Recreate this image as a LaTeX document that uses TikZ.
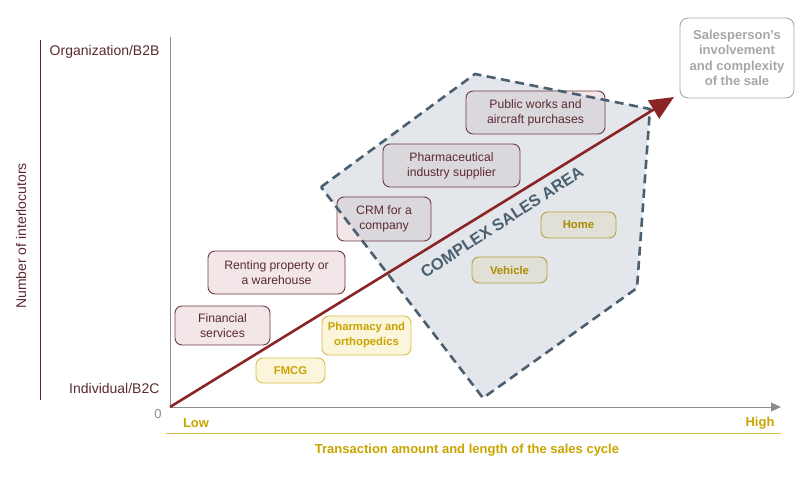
\documentclass[tikz,border=0pt]{standalone}
\usepackage{fontspec}
\setmainfont{Liberation Sans}
\usetikzlibrary{arrows.meta}
\definecolor{maroon}{HTML}{5A2A30}
\definecolor{boxborder}{HTML}{6E3A42}
\definecolor{pinkfill}{HTML}{F2E6E8}
\definecolor{gold}{HTML}{C9A400}
\definecolor{goldborder}{HTML}{D9BF4A}
\definecolor{goldfill}{HTML}{FBF5DC}
\definecolor{slate}{HTML}{4A6070}
\definecolor{areafill}{HTML}{C2C8D1}
\definecolor{arrowred}{HTML}{8B2525}
\definecolor{axisgray}{HTML}{8C8C8C}
\definecolor{lightgray}{HTML}{A6A6A6}
\begin{document}
\begin{tikzpicture}[x=1pt,y=-1pt,
  mbg/.style={fill=pinkfill, rounded corners=7pt, inner sep=0pt},
  gbg/.style={fill=goldfill, rounded corners=7pt, inner sep=0pt},
  mbox/.style={draw=boxborder, rounded corners=7pt, line width=0.9pt,
    text=maroon, align=center, inner sep=0pt, font=\fontsize{12.2}{15}\selectfont},
  gbox/.style={draw=goldborder, rounded corners=7pt, line width=0.9pt,
    text=gold, align=center, inner sep=0pt, font=\bfseries\fontsize{11.3}{15}\selectfont},
  axlabel/.style={text=maroon, font=\fontsize{14}{16}\selectfont},
  goldtext/.style={text=gold, font=\bfseries\fontsize{13}{15}\selectfont},
]
\useasboundingbox (0,0) rectangle (800,488);

% left bracket line and label
\draw[maroon, line width=0.9pt] (40,40) -- (40,400);
\node[axlabel, rotate=90] (ylab) at (21,236) {Number of interlocutors};
\node[axlabel, anchor=east] (org) at (163,52) {Organization/B2B};
\node[axlabel, anchor=east] (ind) at (163,388) {Individual/B2C};

% axes
\coordinate (origin) at (170,407);
\coordinate (ytop) at (170,37);
\coordinate (xend) at (781,407);
\draw[axisgray, line width=0.9pt] (origin) -- (ytop);
\draw[axisgray, line width=0.9pt, -{Triangle[length=10pt,width=9pt]}] (origin) -- (xend);
\node[text=axisgray, font=\fontsize{13}{15}\selectfont] (zero) at (158,414) {0};
\node[goldtext] (low) at (196,423) {Low};
\node[goldtext] (high) at (760,423) {High};
\coordinate (gl) at (166,433);
\coordinate (gr) at (781,433);
\draw[goldborder, line width=1pt] (gl) -- (gr);
\node[goldtext] (xlab) at (467,450) {Transaction amount and length of the sales cycle};

% box backgrounds
\node[mbg, minimum width=95pt, minimum height=39pt] (finbg) at (222.5,325.5) {};
\node[mbg, minimum width=137pt, minimum height=43pt] (rentbg) at (276.5,272.5) {};
\node[mbg, minimum width=94pt, minimum height=44pt] (crmbg) at (384,219) {};
\node[mbg, minimum width=137pt, minimum height=43pt] (pharmsupbg) at (451.5,165.5) {};
\node[mbg, minimum width=139pt, minimum height=43pt] (pubbg) at (535.5,112.5) {};
\node[gbg, minimum width=69pt, minimum height=25pt] (fmcgbg) at (290.5,370.5) {};
\node[gbg, minimum width=89pt, minimum height=39pt] (pharmbg) at (366.5,335.5) {};
\node[gbg, minimum width=75pt, minimum height=26pt] (vehbg) at (509.5,270) {};
\node[gbg, minimum width=75pt, minimum height=26pt] (homebg) at (578.5,225) {};

% complex sales area fill
\coordinate (p1) at (321,187);
\coordinate (p2) at (475,74);
\coordinate (p3) at (650,109);
\coordinate (p4) at (637,288);
\coordinate (p5) at (483,398);
\path[fill=areafill, fill opacity=0.46] (p1) -- (p2) -- (p3) -- (p4) -- (p5) -- cycle;

% box borders and texts
\node[mbox, minimum width=95pt, minimum height=39pt] (fin) at (finbg) {Financial\\services};
\node[mbox, minimum width=137pt, minimum height=43pt] (rent) at (rentbg) {Renting property or\\a warehouse};
\node[mbox, minimum width=94pt, minimum height=44pt] (crm) at (crmbg) {CRM for a\\company};
\node[mbox, minimum width=137pt, minimum height=43pt] (pharmsup) at (pharmsupbg) {Pharmaceutical\\industry supplier};
\node[mbox, minimum width=139pt, minimum height=43pt] (pub) at (pubbg) {Public works and\\aircraft purchases};
\node[gbox, minimum width=69pt, minimum height=25pt] (fmcg) at (fmcgbg) {FMCG};
\node[gbox, minimum width=89pt, minimum height=39pt] (pharm) at (pharmbg) {Pharmacy and\\orthopedics};
\node[gbox, minimum width=75pt, minimum height=26pt, text=gold!85!black, draw=goldborder!85!black] (veh) at (vehbg) {Vehicle};
\node[gbox, minimum width=75pt, minimum height=26pt, text=gold!85!black, draw=goldborder!85!black] (home) at (homebg) {Home};

% dashed outline and label
\draw[slate, line width=2.6pt, dash pattern=on 9pt off 5.5pt] (p1) -- (p2) -- (p3) -- (p4) -- (p5) -- cycle;
\node[text=slate, rotate=33, font=\bfseries\fontsize{16.3}{18}\selectfont] (area) at (502,222) {COMPLEX SALES AREA};

% main arrow
\coordinate (tip) at (674,97);
\draw[arrowred, line width=2.6pt, -{Triangle[length=24pt,width=21pt]}] (origin) -- (tip);

% salesperson box
\node[draw=lightgray, line width=0.9pt, rounded corners=8pt, minimum width=114pt, minimum height=80pt,
  inner sep=0pt, align=center, text=lightgray, font=\bfseries\fontsize{13}{15.5}\selectfont] (sp) at (737,58)
  {Salesperson’s\\involvement\\and complexity\\of the sale};
\end{tikzpicture}
\end{document}
